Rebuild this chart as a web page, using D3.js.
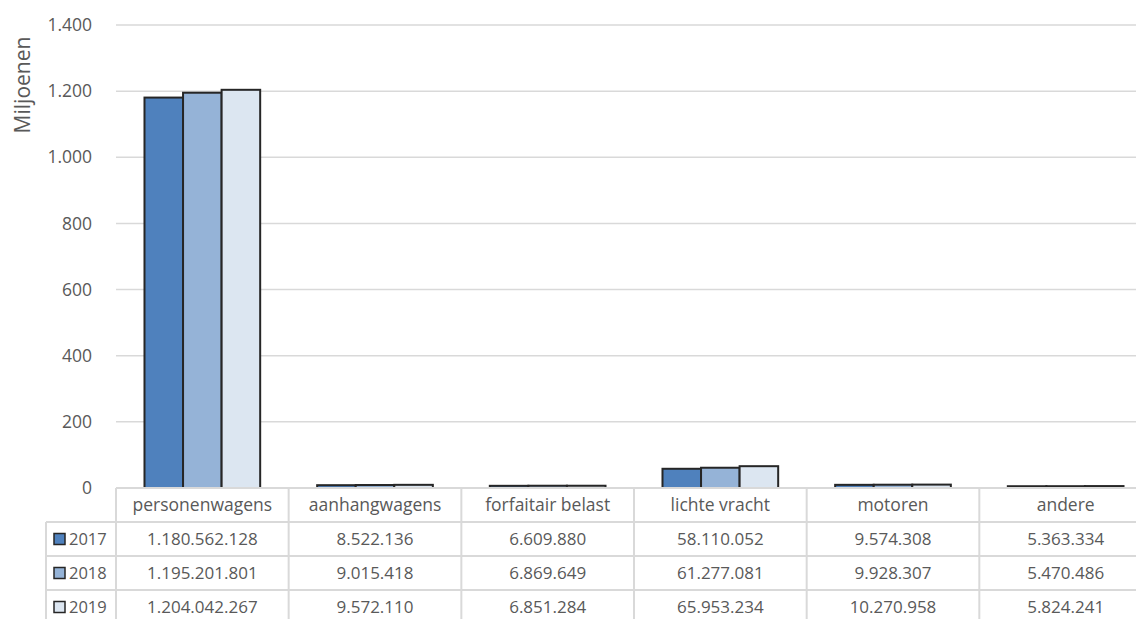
<!DOCTYPE html>
<html>
<head>
<meta charset="utf-8">
<script src="https://cdn.jsdelivr.net/npm/d3@7"></script>
<style>
  body { margin: 0; background: #fff; }
  svg text { font-family: "Open Sans", sans-serif; fill: #595959; }
</style>
</head>
<body>
<div class="chart"></div>
<script>
const categories = ["personenwagens", "aanhangwagens", "forfaitair belast", "lichte vracht", "motoren", "andere"];
const years = ["2017", "2018", "2019"];
const values2017 = [1180562128, 8522136, 6609880, 58110052, 9574308, 5363334];
const values2018 = [1195201801, 9015418, 6869649, 61277081, 9928307, 5470486];
const values2019 = [1204042267, 9572110, 6851284, 65953234, 10270958, 5824241];
const yTicks = [0, 200, 400, 600, 800, 1000, 1200, 1400];

const series = [values2017, values2018, values2019];
const colors = ["#4f81bd", "#95b3d7", "#dce6f1"];

const W = 1136, H = 619;
const plot = { left: 116, right: 1152, top: 25, bottom: 488 };
const rowH = 34;

const svg = d3.select(".chart").append("svg")
    .attr("width", W)
    .attr("height", H);

const fmt = d3.formatLocale({ decimal: ",", thousands: ".", grouping: [3], currency: ["€", ""] }).format(",d");

const x = d3.scaleBand().domain(categories).range([plot.left, plot.right]).paddingInner(0.33).paddingOuter(0.165);
const xs = d3.scaleBand().domain(years).range([0, x.bandwidth()]);
const y = d3.scaleLinear().domain([0, 1400]).range([plot.bottom, plot.top]);
const cat = d3.scaleBand().domain(categories).range([plot.left, plot.right]);

// gridlines
svg.append("g")
  .selectAll("line")
  .data(yTicks.slice(1))
  .join("line")
    .attr("x1", plot.left).attr("x2", W)
    .attr("y1", d => y(d)).attr("y2", d => y(d))
    .attr("stroke", "#d9d9d9").attr("stroke-width", 1.5);

// y tick labels
svg.append("g")
  .selectAll("text")
  .data(yTicks)
  .join("text")
    .attr("x", 92)
    .attr("y", d => y(d))
    .attr("dy", "0.35em")
    .attr("text-anchor", "end")
    .style("font-size", "17.5px")
    .text(d => fmt(d));

svg.append("text")
    .attr("transform", "translate(30,85) rotate(-90)")
    .attr("text-anchor", "middle")
    .style("font-size", "21px")
    .text("Miljoenen");

// bars
svg.append("g")
  .selectAll("g")
  .data(series)
  .join("g")
    .attr("fill", (d, i) => colors[i])
  .selectAll("rect")
  .data((d, i) => d.map((v, j) => ({ v: v / 1e6, c: categories[j], yr: years[i] })))
  .join("rect")
    .attr("x", d => x(d.c) + xs(d.yr))
    .attr("y", d => y(d.v))
    .attr("width", xs.bandwidth())
    .attr("height", d => y(0) - y(d.v))
    .attr("stroke", "#262626")
    .attr("stroke-width", 2);

// data table
const table = svg.append("g");
const tableTop = plot.bottom;
const lineColor = "#d9d9d9";

// horizontal lines
const hl = [
  { x1: plot.left, y: tableTop },
  { x1: 46, y: tableTop + rowH },
  { x1: 46, y: tableTop + rowH * 2 },
  { x1: 46, y: tableTop + rowH * 3 }
];
table.selectAll(".hl").data(hl).join("line")
    .attr("x1", d => d.x1).attr("x2", W)
    .attr("y1", d => d.y).attr("y2", d => d.y)
    .attr("stroke", lineColor).attr("stroke-width", 2);

// vertical lines
const vxs = categories.map(c => cat(c)).concat([plot.right]);
table.selectAll(".vl").data(vxs).join("line")
    .attr("x1", d => d).attr("x2", d => d)
    .attr("y1", tableTop).attr("y2", H)
    .attr("stroke", lineColor).attr("stroke-width", 2);
table.append("line")
    .attr("x1", 46).attr("x2", 46)
    .attr("y1", tableTop + rowH).attr("y2", H)
    .attr("stroke", lineColor).attr("stroke-width", 2);

// header
table.selectAll(".hd").data(categories).join("text")
    .attr("x", d => cat(d) + cat.bandwidth() / 2)
    .attr("y", tableTop + rowH / 2)
    .attr("dy", "0.35em")
    .attr("text-anchor", "middle")
    .style("font-size", "17.5px")
    .text(d => d);

// rows
years.forEach((yr, i) => {
  const ry = tableTop + rowH * (i + 1);
  table.append("rect")
      .attr("x", 54).attr("y", ry + rowH / 2 - 5.5)
      .attr("width", 11).attr("height", 11)
      .attr("fill", colors[i])
      .attr("stroke", "#262626").attr("stroke-width", 1.5);
  table.append("text")
      .attr("x", 69).attr("y", ry + rowH / 2)
      .attr("dy", "0.35em")
      .style("font-size", "16.5px")
      .text(yr);
  table.selectAll(".v" + yr).data(series[i]).join("text")
      .attr("x", (d, j) => cat(categories[j]) + cat.bandwidth() / 2)
      .attr("y", ry + rowH / 2)
      .attr("dy", "0.35em")
      .attr("text-anchor", "middle")
      .style("font-size", "17px")
      .text(d => fmt(d));
});
</script>
</body>
</html>
